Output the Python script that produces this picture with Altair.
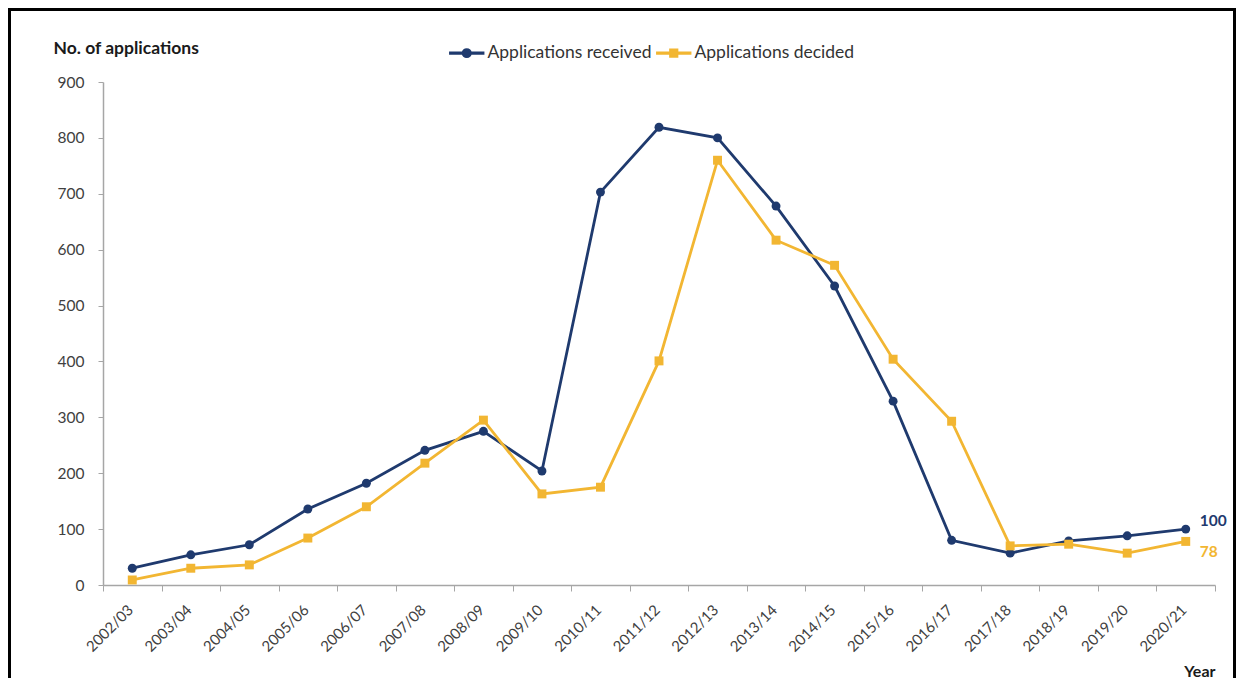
import altair as alt
import pandas as pd

years = ["2002/03", "2003/04", "2004/05", "2005/06", "2006/07", "2007/08", "2008/09",
         "2009/10", "2010/11", "2011/12", "2012/13", "2013/14", "2014/15", "2015/16",
         "2016/17", "2017/18", "2018/19", "2019/20", "2020/21"]
received = [30, 54, 72, 136, 182, 241, 275, 204, 703, 819, 800, 678, 535, 329, 80, 57, 79, 88, 100]
decided = [9, 30, 36, 84, 140, 218, 295, 163, 175, 401, 760, 617, 572, 404, 293, 70, 73, 57, 78]
series_names = ["Applications received", "Applications decided"]
colors = ["#1F3A6E", "#F2B632"]
y_ticks = [0, 100, 200, 300, 400, 500, 600, 700, 800, 900]

rows = []
for name, vals in zip(series_names, [received, decided]):
    for yr, v in zip(years, vals):
        rows.append({"year": yr, "value": v, "series": name})
df = pd.DataFrame(rows)

W, H = 1112, 503
PAD = {"left": 95, "top": 74, "right": 21, "bottom": 93}

legend_paths = [
    "M-2.2,-0.12H-0.5V0.12H-2.2Z M0.5,-0.12H2.2V0.12H0.5Z M-0.55,0A0.55,0.55,0,1,1,0.55,0A0.55,0.55,0,1,1,-0.55,0Z",
    "M-2.2,-0.12H-0.5V0.12H-2.2Z M0.5,-0.12H2.2V0.12H0.5Z M-0.5,-0.5H0.5V0.5H-0.5Z",
]

legend = alt.Legend(
    title=None, orient="none", direction="horizontal", legendX=355, legendY=-38,
    labelFontSize=17.5, labelColor="#333333", labelFont="Lato", labelOffset=12, labelLimit=0,
    symbolSize=237, symbolOpacity=1, columnPadding=1, padding=0,
)

color_scale = alt.Scale(domain=series_names, range=colors)

x_enc = alt.X(
    "year:N", sort=years,
    scale=alt.Scale(type="band", paddingInner=0, paddingOuter=0),
    axis=alt.Axis(
        title="Year", labelAngle=-45, tickBand="extent", grid=False,
        domainColor="#A6A6A6", tickColor="#A6A6A6", tickSize=6, domainWidth=1.5,
        labelFontSize=15, labelColor="#404040", labelPadding=11, labelOffset=-7,
        titleX=W, titleY=86, titleAlign="right", titleBaseline="middle",
        titleFontWeight="bold", titleFontSize=16, titleColor="#1a1a1a",
    ),
)
y_enc = alt.Y(
    "value:Q", scale=alt.Scale(domain=[0, 900], nice=False),
    axis=alt.Axis(
        values=y_ticks, title="No. of applications", titleAngle=0,
        titleX=-50, titleY=-34, titleAlign="left", titleBaseline="middle",
        titleFontWeight="bold", titleFontSize=17.5, titleColor="#1a1a1a",
        grid=False, domainColor="#A6A6A6", tickColor="#A6A6A6", tickSize=5, domainWidth=1.5,
        labelFontSize=15.5, labelColor="#404040", labelPadding=14,
    ),
)

base = alt.Chart(df)
color_enc = alt.Color("series:N", scale=color_scale, legend=legend)

legend_layer = base.mark_point(filled=True, opacity=0, size=237).encode(
    x=x_enc, y=y_enc, color=color_enc,
    shape=alt.Shape("series:N", scale=alt.Scale(domain=series_names, range=legend_paths), legend=legend),
)

lines = base.mark_line(strokeWidth=2.8).encode(
    x=x_enc, y=y_enc, color=color_enc, detail="series:N",
)

pts_recv = base.transform_filter(alt.datum.series == series_names[0]).mark_point(
    filled=True, opacity=1, size=80, shape="circle"
).encode(x=x_enc, y=y_enc, color=color_enc)

pts_dec = base.transform_filter(alt.datum.series == series_names[1]).mark_point(
    filled=True, opacity=1, size=80, shape="square"
).encode(x=x_enc, y=y_enc, color=color_enc)

last = years[-1]
lbl_recv = base.transform_filter(
    (alt.datum.year == last) & (alt.datum.series == series_names[0])
).mark_text(align="left", dx=14, dy=-8, fontSize=15.5, fontWeight="bold", color=colors[0]).encode(
    x=x_enc, y=y_enc, text="value:Q"
)
lbl_dec = base.transform_filter(
    (alt.datum.year == last) & (alt.datum.series == series_names[1])
).mark_text(align="left", dx=14, dy=11, fontSize=15.5, fontWeight="bold", color=colors[1]).encode(
    x=x_enc, y=y_enc, text="value:Q"
)

frame = alt.Chart(pd.DataFrame({"a": [0]})).mark_rect(
    filled=False, stroke="black", strokeWidth=3
).encode(
    x=alt.value(-93.5), x2=alt.value(W + 19.5), y=alt.value(-72.5), y2=alt.value(H + 120)
)

chart = alt.layer(legend_layer, lines, pts_recv, pts_dec, lbl_recv, lbl_dec, frame).properties(
    width=W, height=H, padding=PAD, autosize="none", background="white"
).configure(font="Lato").configure_view(stroke=None)

chart.save("out.html", embed_options={"renderer": "svg", "actions": False})
